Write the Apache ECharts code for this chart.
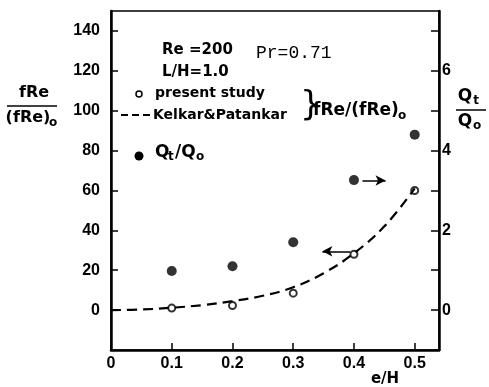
<!DOCTYPE html>
<html>
<head>
<meta charset="utf-8">
<script src="https://cdn.jsdelivr.net/npm/echarts@6/dist/echarts.min.js"></script>
<style>
html,body{margin:0;padding:0;background:#fff;}
#c{width:489px;height:387px;}
</style>
</head>
<body>
<div id="c"></div>
<script>
// ---- data ----
var eH = [0.1, 0.2, 0.3, 0.4, 0.5];
var fRePresent = [1.0, 2.3, 8.5, 28, 60];          // fRe/(fRe)o, present study (open circles)
var QtQo = [0.98, 1.1, 1.7, 3.26, 4.4];             // Qt/Qo (filled dots, right axis)
var kpX = [0, 0.05, 0.1, 0.15, 0.2, 0.25, 0.3, 0.35, 0.4, 0.45, 0.5];
var kpY = [0, 0.3, 1.2, 2.5, 4.5, 7.2, 11.5, 18.5, 28.5, 42, 61];  // Kelkar & Patankar
var leftTicks = [0, 20, 40, 60, 80, 100, 120, 140];
var rightTicks = [0, 2, 4, 6];
var xTicks = [0, 0.1, 0.2, 0.3, 0.4, 0.5];
// arrows (data coordinates)
var arrowQ = [[0.414, 3.25], [0.452, 3.25]];
var arrowF = [[0.394, 29.5], [0.348, 29.5]];

function zip(a, b) { return a.map(function (v, i) { return [v, b[i]]; }); }

var chart = echarts.init(document.getElementById('c'), null, {renderer: 'canvas'});
var tickFont = {color: '#000', fontFamily: 'Liberation Sans', fontWeight: 'bold', fontSize: 16};
var bold = 'DejaVu Sans';

chart.setOption({
  animation: false,
  backgroundColor: '#fff',
  grid: {left: 111, top: 11, width: 328, height: 339, show: true, borderColor: '#000', borderWidth: 1.5, backgroundColor: 'transparent'},
  xAxis: {
    type: 'value', min: 0, max: 0.54, interval: 0.1,
    axisLine: {show: true, onZero: false, lineStyle: {color: '#000', width: 2.5}},
    axisTick: {show: true, inside: true, length: 7, lineStyle: {color: '#000', width: 1.5}},
    splitLine: {show: false},
    axisLabel: Object.assign({margin: 6, showMaxLabel: false,
      formatter: function (v) {
        for (var i = 0; i < xTicks.length; i++) if (Math.abs(xTicks[i] - v) < 1e-9) return v === 0 ? '0' : xTicks[i].toFixed(1);
        return '';
      }}, tickFont)
  },
  yAxis: [{
    type: 'value', min: -20, max: 150, interval: 20, position: 'left',
    axisLine: {show: true, onZero: false, lineStyle: {color: '#000', width: 2.5}},
    axisTick: {show: true, inside: true, length: 7, lineStyle: {color: '#000', width: 1.5}},
    splitLine: {show: false},
    axisLabel: Object.assign({margin: 11, showMaxLabel: false, showMinLabel: false,
      formatter: function (v) { return leftTicks.indexOf(v) >= 0 ? String(v) : ''; }}, tickFont)
  }, {
    type: 'value', min: -1, max: 7.5, interval: 1, position: 'right',
    axisLine: {show: true, onZero: false, lineStyle: {color: '#000', width: 2.5}},
    axisTick: {show: true, inside: true, length: 8, lineStyle: {color: '#000', width: 1.5}},
    splitLine: {show: false},
    axisLabel: Object.assign({margin: 3, showMaxLabel: false, showMinLabel: false,
      formatter: function (v) { return rightTicks.indexOf(v) >= 0 ? String(v) : ''; }}, tickFont)
  }],
  series: [{
    name: 'Kelkar&Patankar', type: 'line', yAxisIndex: 0, smooth: 0.4,
    data: zip(kpX, kpY), symbol: 'none', silent: true,
    lineStyle: {color: '#000', width: 2.2, type: [10, 6]}
  }, {
    name: 'present study', type: 'scatter', yAxisIndex: 0,
    data: zip(eH, fRePresent), symbol: 'circle', symbolSize: 7, silent: true,
    itemStyle: {color: '#fff', borderColor: '#000', borderWidth: 2},
    markLine: {silent: true, symbol: ['none', 'arrow'], symbolSize: [8, 10], label: {show: false},
      lineStyle: {color: '#000', width: 1.5, type: 'solid'},
      data: [[{coord: arrowF[0]}, {coord: arrowF[1]}]]}
  }, {
    name: 'Qt/Qo', type: 'scatter', yAxisIndex: 1,
    data: zip(eH, QtQo), symbol: 'circle', symbolSize: 10, silent: true,
    itemStyle: {color: '#000'},
    markLine: {silent: true, symbol: ['none', 'arrow'], symbolSize: [8, 10], label: {show: false},
      lineStyle: {color: '#000', width: 1.5, type: 'solid'},
      data: [[{coord: arrowQ[0]}, {coord: arrowQ[1]}]]}
  }],
  graphic: [
    // left axis title
    {type: 'text', x: 34, y: 93, style: {text: 'fRe', font: 'bold 16px ' + bold, fill: '#000', align: 'center', verticalAlign: 'middle'}},
    {type: 'line', shape: {x1: 7, y1: 106, x2: 57, y2: 106}, style: {stroke: '#000', lineWidth: 1.5}},
    {type: 'text', x: 28, y: 118, style: {text: '(fRe)', font: 'bold 16px ' + bold, fill: '#000', align: 'center', verticalAlign: 'middle'}},
    {type: 'text', x: 53, y: 123, style: {text: 'o', font: 'bold 12px ' + bold, fill: '#000', align: 'center', verticalAlign: 'middle'}},
    // right axis title
    {type: 'text', x: 465, y: 97, style: {text: 'Q', font: 'bold 17px ' + bold, fill: '#000', align: 'center', verticalAlign: 'middle'}},
    {type: 'text', x: 476, y: 101, style: {text: 't', font: 'bold 12px ' + bold, fill: '#000', align: 'center', verticalAlign: 'middle'}},
    {type: 'line', shape: {x1: 456, y1: 110, x2: 486, y2: 110}, style: {stroke: '#000', lineWidth: 1.5}},
    {type: 'text', x: 465, y: 122, style: {text: 'Q', font: 'bold 17px ' + bold, fill: '#000', align: 'center', verticalAlign: 'middle'}},
    {type: 'text', x: 477, y: 126, style: {text: 'o', font: 'bold 12px ' + bold, fill: '#000', align: 'center', verticalAlign: 'middle'}},
    // x axis name
    {type: 'text', x: 385, y: 379, style: {text: 'e/H', font: 'bold 15px ' + bold, fill: '#000', align: 'center', verticalAlign: 'middle'}},
    // annotations
    {type: 'text', x: 162, y: 50, style: {text: 'Re =200', font: 'bold 15px ' + bold, fill: '#000', verticalAlign: 'middle'}},
    {type: 'text', x: 256, y: 53, style: {text: 'Pr=0.71', font: '18px Liberation Mono', fill: '#000', verticalAlign: 'middle'}},
    {type: 'text', x: 162, y: 72, style: {text: 'L/H=1.0', font: 'bold 15px ' + bold, fill: '#000', verticalAlign: 'middle'}},
    // legend
    {type: 'circle', shape: {cx: 139, cy: 94, r: 3}, style: {fill: '#fff', stroke: '#000', lineWidth: 1.5}},
    {type: 'text', x: 155, y: 93, style: {text: 'present study', font: 'bold 14px ' + bold, fill: '#000', verticalAlign: 'middle'}},
    {type: 'line', shape: {x1: 121, y1: 115, x2: 152, y2: 115}, style: {stroke: '#000', lineWidth: 1.8, lineDash: [7, 4]}},
    {type: 'text', x: 153, y: 115, style: {text: 'Kelkar&Patankar', font: 'bold 14px ' + bold, fill: '#000', verticalAlign: 'middle'}},
    {type: 'text', x: 300, y: 106, style: {text: '}', font: '34px ' + bold, fill: '#000', verticalAlign: 'middle'}},
    {type: 'text', x: 313, y: 111, style: {text: 'fRe/(fRe)', font: 'bold 17px ' + bold, fill: '#000', verticalAlign: 'middle'}},
    {type: 'text', x: 402, y: 116, style: {text: 'o', font: 'bold 12px ' + bold, fill: '#000', align: 'center', verticalAlign: 'middle'}},
    {type: 'circle', shape: {cx: 139, cy: 156, r: 4.5}, style: {fill: '#000'}},
    {type: 'text', x: 155, y: 153, style: {text: 'Q', font: 'bold 17px ' + bold, fill: '#000', verticalAlign: 'middle'}},
    {type: 'text', x: 168, y: 157, style: {text: 't', font: 'bold 12px ' + bold, fill: '#000', verticalAlign: 'middle'}},
    {type: 'text', x: 175, y: 153, style: {text: '/Q', font: 'bold 17px ' + bold, fill: '#000', verticalAlign: 'middle'}},
    {type: 'text', x: 196, y: 157, style: {text: 'o', font: 'bold 12px ' + bold, fill: '#000', verticalAlign: 'middle'}}
  ]
});
</script>
</body>
</html>
